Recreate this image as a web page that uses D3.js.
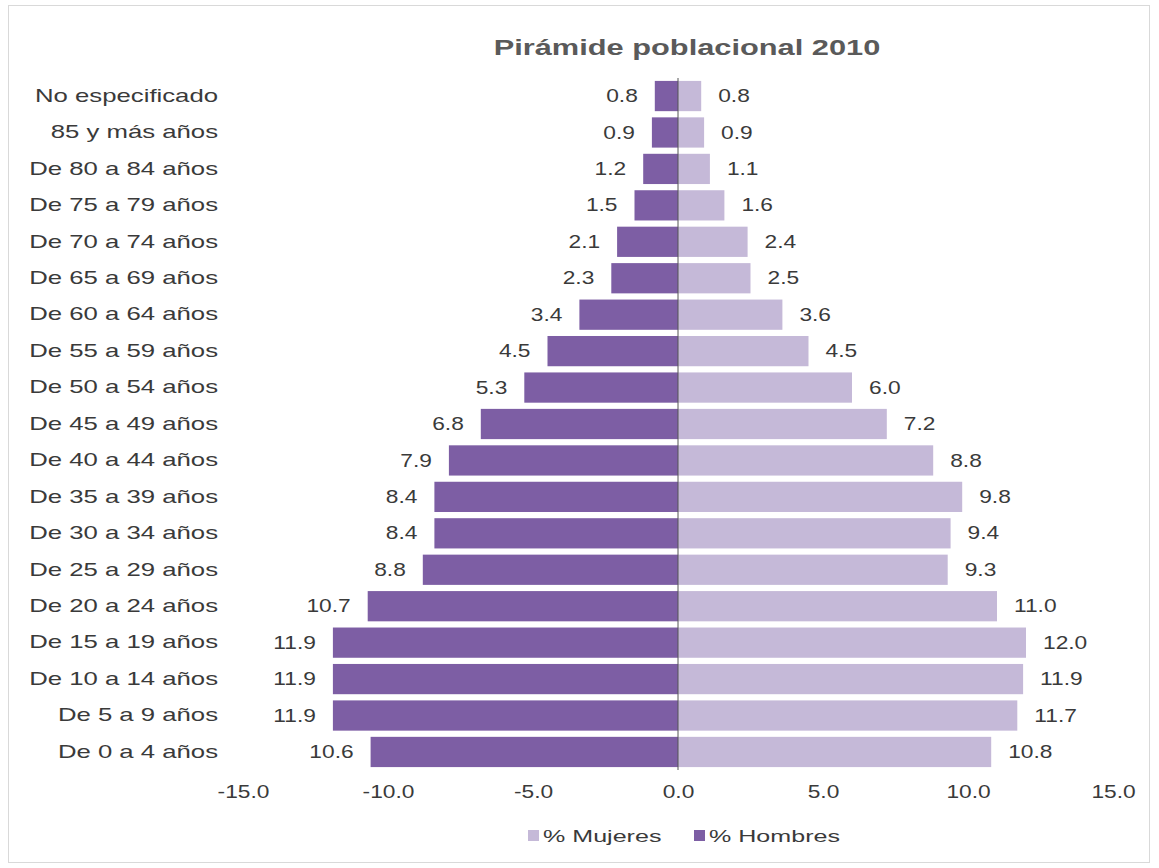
<!DOCTYPE html>
<html>
<head>
<meta charset="utf-8">
<script src="https://cdn.jsdelivr.net/npm/d3@7"></script>
<style>
  body { margin: 0; background: #fff; }
  text { font-family: "Liberation Sans", Arial, sans-serif; }
</style>
</head>
<body>
<div id="chart"></div>
<script>
// age groups, top to bottom
const groups = ["No especificado", "85 y más años", "De 80 a 84 años", "De 75 a 79 años",
  "De 70 a 74 años", "De 65 a 69 años", "De 60 a 64 años", "De 55 a 59 años",
  "De 50 a 54 años", "De 45 a 49 años", "De 40 a 44 años", "De 35 a 39 años",
  "De 30 a 34 años", "De 25 a 29 años", "De 20 a 24 años", "De 15 a 19 años",
  "De 10 a 14 años", "De 5 a 9 años", "De 0 a 4 años"];
const hombres = [0.8, 0.9, 1.2, 1.5, 2.1, 2.3, 3.4, 4.5, 5.3, 6.8, 7.9, 8.4, 8.4, 8.8, 10.7, 11.9, 11.9, 11.9, 10.6];
const mujeres = [0.8, 0.9, 1.1, 1.6, 2.4, 2.5, 3.6, 4.5, 6.0, 7.2, 8.8, 9.8, 9.4, 9.3, 11.0, 12.0, 11.9, 11.7, 10.8];
const ticks = [-15, -10, -5, 0, 5, 10, 15];

const width = 1159;
const height = 868;
const colHombres = "#7d5ea4";
const colMujeres = "#c5b9d8";
const textCol = "#3a3a3a";

// the original picture is stretched sideways, so text is widened too
const sCat = 1.43, sVal = 1.3, sTitle = 1.4, sLeg = 1.52;

const svg = d3.select("#chart")
  .append("svg")
  .attr("width", width)
  .attr("height", height);

// light frame round the chart
svg.append("rect")
  .attr("x", 8.5).attr("y", 5.5)
  .attr("width", 1141).attr("height", 857)
  .attr("fill", "none")
  .attr("stroke", "#d9d9d9");

const x = d3.scaleLinear()
  .domain([-15, 15])
  .range([243, 1113]);

const y = d3.scaleBand()
  .domain(groups)
  .range([78, 770])
  .paddingInner(0.17)
  .paddingOuter(0.08);

const rows = groups.map((g, i) => ({ g, h: hombres[i], m: mujeres[i] }));

// bars for men (left) and women (right)
svg.selectAll(".bar-h")
  .data(rows)
  .join("rect")
  .attr("class", "bar-h")
  .attr("x", d => x(-d.h))
  .attr("y", d => y(d.g))
  .attr("width", d => x(0) - x(-d.h))
  .attr("height", y.bandwidth())
  .attr("fill", colHombres);

svg.selectAll(".bar-m")
  .data(rows)
  .join("rect")
  .attr("class", "bar-m")
  .attr("x", x(0))
  .attr("y", d => y(d.g))
  .attr("width", d => x(d.m) - x(0))
  .attr("height", y.bandwidth())
  .attr("fill", colMujeres);

// centre line
svg.append("line")
  .attr("x1", x(0)).attr("x2", x(0))
  .attr("y1", y.range()[0]).attr("y2", y.range()[1])
  .attr("stroke", "#555")
  .attr("stroke-width", 1);

// value labels
svg.selectAll(".lab-h")
  .data(rows)
  .join("text")
  .attr("class", "lab-h")
  .attr("transform", d => `translate(${x(-d.h) - 17},${y(d.g) + y.bandwidth() / 2}) scale(${sVal},1)`)
  .attr("dy", "0.35em")
  .attr("text-anchor", "end")
  .attr("font-size", 17.5)
  .attr("fill", textCol)
  .text(d => d.h.toFixed(1));

svg.selectAll(".lab-m")
  .data(rows)
  .join("text")
  .attr("class", "lab-m")
  .attr("transform", d => `translate(${x(d.m) + 17},${y(d.g) + y.bandwidth() / 2}) scale(${sVal},1)`)
  .attr("dy", "0.35em")
  .attr("text-anchor", "start")
  .attr("font-size", 17.5)
  .attr("fill", textCol)
  .text(d => d.m.toFixed(1));

// category labels
const yAxis = d3.axisLeft(y).tickSize(0).tickPadding(0);
svg.append("g")
  .attr("transform", "translate(218,0)")
  .call(yAxis)
  .call(g => g.select(".domain").remove())
  .call(g => g.selectAll("text")
    .attr("font-size", 18)
    .attr("fill", textCol)
    .attr("transform", `scale(${sCat},1)`)
    .style("font-family", "'Liberation Sans', Arial, sans-serif"));

// bottom axis, labels only
const xAxis = d3.axisBottom(x)
  .tickValues(ticks)
  .tickSize(0)
  .tickPadding(0)
  .tickFormat(d => d.toFixed(1));
svg.append("g")
  .attr("transform", "translate(0,786)")
  .call(xAxis)
  .call(g => g.select(".domain").remove())
  .call(g => g.selectAll("text")
    .attr("font-size", 17.5)
    .attr("fill", textCol)
    .attr("transform", `scale(${sVal},1)`)
    .style("font-family", "'Liberation Sans', Arial, sans-serif"));

// title
svg.append("text")
  .attr("transform", `translate(687,55) scale(${sTitle},1)`)
  .attr("text-anchor", "middle")
  .attr("font-size", 22)
  .attr("font-weight", "bold")
  .attr("fill", "#5a5a5a")
  .text("Pirámide poblacional 2010");

// legend
const legend = [
  { label: "% Mujeres", color: colMujeres, x: 528 },
  { label: "% Hombres", color: colHombres, x: 694 }
];
const lg = svg.selectAll(".legend")
  .data(legend)
  .join("g")
  .attr("class", "legend")
  .attr("transform", d => `translate(${d.x},836)`);
lg.append("rect")
  .attr("x", 0).attr("y", -6)
  .attr("width", 11).attr("height", 11)
  .attr("fill", d => d.color);
lg.append("text")
  .attr("transform", `translate(15,0) scale(${sLeg},1)`)
  .attr("dy", "0.35em")
  .attr("font-size", 16.5)
  .attr("fill", textCol)
  .text(d => d.label);
</script>
</body>
</html>
